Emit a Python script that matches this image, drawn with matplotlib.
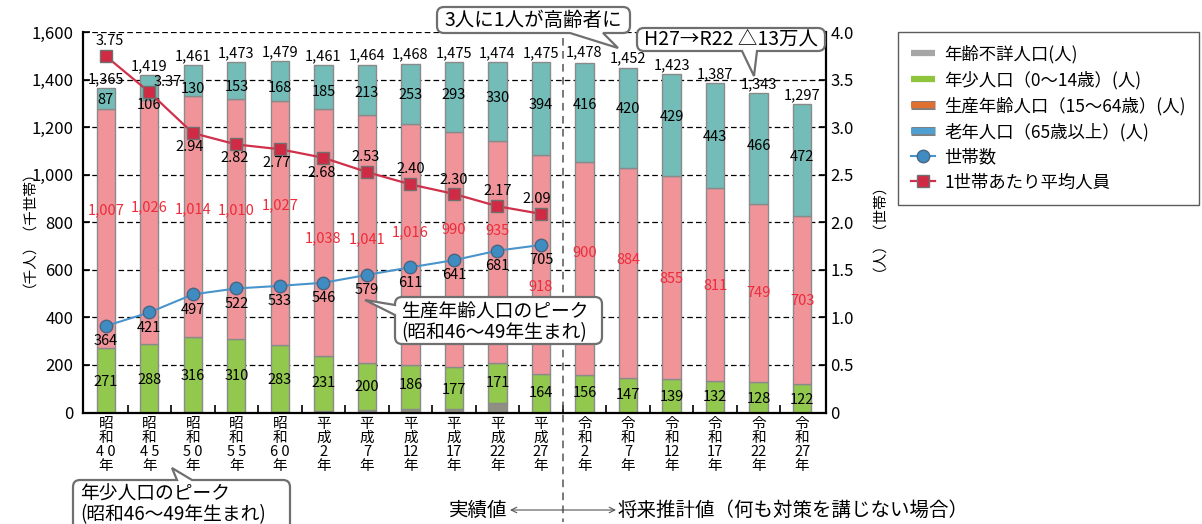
import matplotlib
matplotlib.use('Agg')
import numpy as np
import matplotlib.pyplot as plt
import matplotlib.ticker as mticker
import matplotlib.patheffects as pe
from matplotlib.path import Path
from matplotlib.patches import PathPatch
from matplotlib.lines import Line2D
from matplotlib.transforms import blended_transform_factory

plt.rcParams['font.family'] = ['Noto Sans CJK JP', 'DejaVu Sans']

# ---- data -------------------------------------------------------------
eras = ['昭和'] * 5 + ['平成'] * 6 + ['令和'] * 6
era_years = ['4 0', '4 5', '5 0', '5 5', '6 0',
             '2', '7', '12', '17', '22', '27',
             '2', '7', '12', '17', '22', '27']
total = [1365, 1419, 1461, 1473, 1479, 1461, 1464, 1468, 1475, 1474, 1475,
         1478, 1452, 1423, 1387, 1343, 1297]
elderly = [87, 106, 130, 153, 168, 185, 213, 253, 293, 330, 394,
           416, 420, 429, 443, 466, 472]
working = [1007, 1026, 1014, 1010, 1027, 1038, 1041, 1016, 990, 935, 918,
           900, 884, 855, 811, 749, 703]
youth = [271, 288, 316, 310, 283, 231, 200, 186, 177, 171, 164,
         156, 147, 139, 132, 128, 122]
unknown = [0, 0, 1, 0, 1, 7, 10, 13, 15, 38, 0,
           0, 0, 0, 0, 0, 0]
households = [364, 421, 497, 522, 533, 546, 579, 611, 641, 681, 705]
persons_per_household = [3.75, 3.37, 2.94, 2.82, 2.77, 2.68, 2.53, 2.40, 2.30, 2.17, 2.09]

# ---- label placement (left-axis units / point offsets) -----------------
elderly_label_y = [1315, 1296, 1361, 1369, 1365, 1349, 1344, 1336, 1336, 1323, 1296,
                   1296, 1279, 1244, 1160, 1122, 1077]
working_label_y = [851, 864, 856, 851, 873, 734, 730, 759, 768, 764, 528,
                   671, 642, 562, 532, 503, 469]
youth_label_y = [128, 137, 154, 154, 137, 124, 107, 116, 95, 124, 82,
                 82, 74, 65, 65, 57, 53]
pph_offsets = [(3, 11), (13, 7), (-2, -10), (-1, -10), (-2, -10), (-1, -11),
               (-1, 11), (0, 11), (0, 10), (0, 11), (-3, 11)]

# ---- colours ----------------------------------------------------------
C_UNKNOWN = '#8f8f82'
C_YOUTH = '#92c84e'
C_WORKING = '#f09499'
C_ELDERLY = '#73bcb8'
C_EDGE = '#8a8a8a'
C_RED_TXT = '#ee2b3b'
C_HH = '#4a94cc'
C_PPH = '#d0304a'

W, H, DPI = 1202, 524, 100


def fx(px):
    return px / W


def fy(py):
    return 1 - py / H


fig = plt.figure(figsize=(W / DPI, H / DPI), dpi=DPI)
ax = fig.add_axes([fx(83), fy(412.5), (826 - 83) / W, (412.5 - 32.3) / H])

x = np.arange(len(total))
bw = 0.42
b_youth = np.array(unknown)
b_work = b_youth + np.array(youth)
b_old = b_work + np.array(working)

bar_kw = dict(width=bw, edgecolor=C_EDGE, linewidth=1.0, zorder=2)
ax.bar(x, unknown, color=C_UNKNOWN, **bar_kw)
ax.bar(x, youth, bottom=b_youth, color=C_YOUTH, **bar_kw)
ax.bar(x, working, bottom=b_work, color=C_WORKING, **bar_kw)
ax.bar(x, elderly, bottom=b_old, color=C_ELDERLY, **bar_kw)

VAL_FS = 10.5
for i in x:
    ax.annotate(f'{total[i]:,}', (i, total[i]), xytext=(0, 1.5),
                textcoords='offset points', ha='center', va='bottom',
                fontsize=VAL_FS, zorder=5)
    ax.text(i, elderly_label_y[i], f'{elderly[i]:,}', ha='center', va='center',
            fontsize=VAL_FS, zorder=5)
    ax.text(i, working_label_y[i], f'{working[i]:,}', ha='center', va='center',
            fontsize=VAL_FS, color=C_RED_TXT, zorder=5)
    ax.text(i, youth_label_y[i], f'{youth[i]:,}', ha='center', va='center',
            fontsize=VAL_FS, zorder=5)

hx = np.arange(len(households))
ax.plot(hx, households, color=C_HH, lw=1.5, marker='o', ms=9,
        mfc='#3f8cc2', mec='#4b6580', mew=1.0, zorder=4)
for i, v in enumerate(households):
    ax.annotate(f'{v}', (i, v), xytext=(0, -11), textcoords='offset points',
                ha='center', va='center', fontsize=VAL_FS, zorder=5)

ax.set_xlim(-0.524, 16.55)
ax.set_ylim(0, 1600)
ax.set_yticks(np.arange(0, 1601, 200))
ax.yaxis.set_major_formatter(mticker.FuncFormatter(lambda v, p: f'{v:,.0f}'))
ax.yaxis.grid(True, color='black', ls=(0, (4.5, 2.5)), lw=0.9)
ax.set_axisbelow(True)

ax.set_xticks(x)
ax.set_xticklabels([f'{e[0]}\n{e[1]}\n{y}\n年' for e, y in zip(eras, era_years)],
                   fontsize=10.5, linespacing=1.0)
ax.set_xticks(np.arange(0.5, 16, 1), minor=True)
ax.tick_params(axis='x', which='major', length=0, pad=3)
ax.tick_params(axis='x', which='minor', direction='in', length=6, width=1.2)
ax.tick_params(axis='y', direction='in', length=5, width=1.2, labelsize=12, pad=7)

for s in ('top', 'right'):
    ax.spines[s].set_visible(False)
for s in ('left', 'bottom'):
    ax.spines[s].set_linewidth(1.6)

ax2 = ax.twinx()
ax2.set_ylim(0, 4)
ax2.set_yticks(np.arange(0, 4.01, 0.5))
ax2.yaxis.set_major_formatter(mticker.FuncFormatter(
    lambda v, p: '0' if v == 0 else f'{v:.1f}'))
ax2.tick_params(axis='y', direction='in', length=5, width=1.2, labelsize=12, pad=3)
for s in ('top', 'left', 'bottom'):
    ax2.spines[s].set_visible(False)
ax2.spines['right'].set_linewidth(1.6)
ax2.plot(hx, persons_per_household, color=C_PPH, lw=1.6, marker='s', ms=9,
         mfc='#d02a44', mec='#707070', mew=1.0, zorder=4)
for i, v in enumerate(persons_per_household):
    ax2.annotate(f'{v:.2f}', (i, v), xytext=pph_offsets[i], textcoords='offset points',
                 ha='center', va='center', fontsize=VAL_FS, zorder=5)

# axis titles
fig.text(fx(21), fy(221), '（千人）（千世帯）', rotation=90, ha='center', va='center',
         fontsize=10.5)
fig.text(fx(871), fy(220), '（人）（世帯）', rotation=90, ha='center', va='center',
         fontsize=10.5)

# divider between recorded and projected values
tr = blended_transform_factory(ax.transData, fig.transFigure)
fig.add_artist(Line2D([10.5, 10.5], [fy(38), fy(522)], transform=tr,
                      color='#555555', lw=1.1, ls=(0, (5, 3.5))))

arrow_kw = dict(arrowstyle='->', color='#555555', lw=0.8, shrinkA=0, shrinkB=0)
ax.annotate('', xy=(510, H - 510), xytext=(562, H - 510), xycoords='figure pixels',
            textcoords='figure pixels', arrowprops=arrow_kw)
ax.annotate('', xy=(616, H - 510), xytext=(562, H - 510), xycoords='figure pixels',
            textcoords='figure pixels', arrowprops=arrow_kw)
fig.text(fx(507), fy(510), '実績値', ha='right', va='center', fontsize=14)
fig.text(fx(618), fy(510), '将来推計値（何も対策を講じない場合）', ha='left',
         va='center', fontsize=14)


# ---- speech-bubble callouts ------------------------------------------
def callout(x0, y0, x1, y1, side, a, b, tip, r=7):
    verts, codes = [], []

    def mv(p):
        verts.append(p); codes.append(Path.MOVETO)

    def ln(p):
        verts.append(p); codes.append(Path.LINETO)

    def cv(c, p):
        verts.extend([c, p]); codes.extend([Path.CURVE3, Path.CURVE3])

    mv((x0 + r, y0))
    if side == 'top':
        ln((a, y0)); ln(tip); ln((b, y0))
    ln((x1 - r, y0)); cv((x1, y0), (x1, y0 + r))
    ln((x1, y1 - r)); cv((x1, y1), (x1 - r, y1))
    if side == 'bottom':
        ln((b, y1)); ln(tip); ln((a, y1))
    ln((x0 + r, y1)); cv((x0, y1), (x0, y1 - r))
    if side == 'left':
        ln((x0, b)); ln(tip); ln((x0, a))
    ln((x0, y0 + r)); cv((x0, y0), (x0 + r, y0))
    verts.append((x0 + r, y0)); codes.append(Path.CLOSEPOLY)
    path = Path([(fx(px), fy(py)) for px, py in verts], codes)
    fig.add_artist(PathPatch(path, transform=fig.transFigure, facecolor='white',
                             edgecolor='#6f6f6f', lw=1.6, zorder=6))


callout(437, 7, 630, 33, 'bottom', 570, 603, (618, 48))
fig.text(fx(533.5), fy(20), '3人に1人が高齢者に', ha='center', va='center',
         fontsize=14, zorder=7)

callout(637, 28, 825, 51, 'bottom', 742, 757, (754, 76))
fig.text(fx(731), fy(39.5), 'H27→R22 △13万人', ha='center', va='center',
         fontsize=14, zorder=7)

callout(395, 297, 602, 344, 'left', 305, 315, (365, 300))
fig.text(fx(401), fy(322), '生産年齢人口のピーク\n(昭和46～49年生まれ)', ha='left',
         va='center', fontsize=13.5, linespacing=0.98, zorder=7)

callout(73, 480, 290, 540, 'top', 177, 192, (172, 468))
fig.text(fx(80), fy(504), '年少人口のピーク\n(昭和46～49年生まれ)', ha='left',
         va='center', fontsize=13.5, linespacing=0.98, zorder=7)

# ---- legend ------------------------------------------------------------
def bar_handle(color, edge=None):
    kw = dict(color=color, lw=4.5, solid_capstyle='butt')
    if edge:
        kw['path_effects'] = [pe.Stroke(linewidth=6.5, foreground=edge,
                                        capstyle='butt'), pe.Normal()]
    return Line2D([], [], **kw)


handles = [
    bar_handle('#a6a6a6'),
    bar_handle('#8fc53c'),
    bar_handle('#e07030', '#7f7f7f'),
    bar_handle('#4f9fd0', '#7f7f7f'),
    Line2D([], [], color=C_HH, lw=1.5, marker='o', ms=9, mfc='#3f8cc2', mec='#4b6580'),
    Line2D([], [], color=C_PPH, lw=1.6, marker='s', ms=9, mfc='#d02a44', mec='#707070'),
]
labels = ['年齢不詳人口(人)', '年少人口（0～14歳）(人)', '生産年齢人口（15～64歳）(人)',
          '老年人口（65歳以上）(人)', '世帯数', '1世帯あたり平均人員']
leg = fig.legend(handles, labels, loc='upper left', bbox_to_anchor=(fx(898), fy(32)),
                 fontsize=12.5, frameon=True, fancybox=False, edgecolor='#333333',
                 borderpad=0.75, labelspacing=0.42, handlelength=1.4,
                 handletextpad=0.5, borderaxespad=0)
leg.get_frame().set_linewidth(1.0)

fig.savefig('out.png', dpi=DPI)
